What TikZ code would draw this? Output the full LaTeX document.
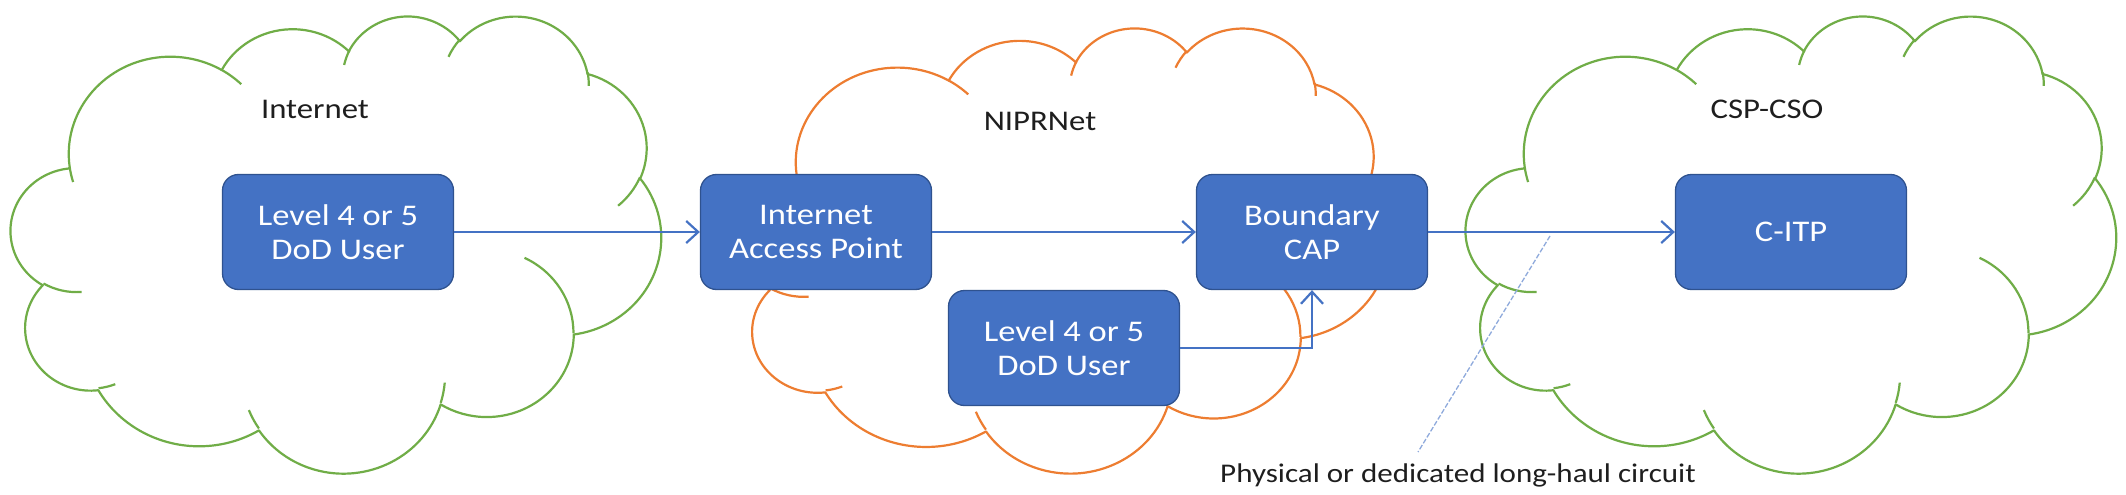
\documentclass[tikz,border=0pt]{standalone}
\usepackage{fontspec}
\setmainfont{Carlito}[FakeStretch=1.15]
\usetikzlibrary{arrows.meta}
\definecolor{boxblue}{HTML}{4472C4}
\definecolor{boxedge}{HTML}{2F528F}
\definecolor{cgreen}{HTML}{70AD47}
\definecolor{corange}{HTML}{ED7D31}
\definecolor{callblue}{HTML}{8FAADC}
\definecolor{inktext}{HTML}{1E1E1E}
% PowerPoint-style arc: visual start angle #3, visual sweep #4, radii #1,#2
\newcommand\cloudarc[4]{arc[x radius=#1, y radius=#2,
  start angle={atan2((#1)*sin(#3),(#2)*cos(#3))},
  delta angle={mod(atan2((#1)*sin((#3)+(#4)),(#2)*cos((#3)+(#4)))-atan2((#1)*sin(#3),(#2)*cos(#3))+720,360)}]}
\newcommand\drawcloud[5]{%
\begin{scope}[xshift=#1pt, yshift=#2pt, x=#3pt, y=#4pt]
\draw[cloudline, draw=#5, fill=white] (39.00,143.70)
  \cloudarc{67.53}{91.90}{-190.48748}{123.78053}
  \cloudarc{53.33}{72.67}{-144.10238}{89.94523}
  \cloudarc{43.65}{59.45}{-145.80792}{99.72302}
  \cloudarc{48.57}{65.95}{-130.98607}{117.24173}
  \cloudarc{53.33}{72.73}{-78.70888}{109.02692}
  \cloudarc{67.75}{92.20}{-46.26725}{130.269}
  \cloudarc{57.85}{78.67}{0.62502}{114.03333}
  \cloudarc{67.52}{92.15}{22.4516}{115.17255}
  \cloudarc{77.20}{105.43}{66.24263}{75.71102}
  \cloudarc{43.60}{59.18}{-274.94208}{146.73557}
  \cloudarc{43.45}{59.45}{-246.8285}{152.51885} -- cycle;
\draw[cloudline, draw=#5]
  (46.93,261.77) \cloudarc{43.45}{59.45}{86.742}{26.4295}
  (69.28,348.99) \cloudarc{43.60}{59.18}{73.61047}{11.44747}
  (164.78,390.90) \cloudarc{67.52}{92.15}{137.62415}{14.0811}
  (288.27,347.51) \cloudarc{67.52}{92.15}{6.45327}{15.99835}
  (341.29,229.54) \cloudarc{57.85}{78.67}{-70.29235}{70.91737}
  (417.98,153.54) \cloudarc{53.33}{72.73}{30.31803}{27.7515}
  (383.24,54.26) \cloudarc{48.57}{65.95}{-13.74433}{14.8589}
  (290.78,39.52) \cloudarc{48.57}{65.95}{-149.18145}{18.19537}
  (221.41,47.20) \cloudarc{43.65}{59.45}{-163.49427}{17.68635}
  (140.00,51.92) \cloudarc{67.53}{91.90}{-66.70695}{12.31935}
  (41.27,157.89) \cloudarc{67.53}{91.90}{157.65435}{11.85817};
\end{scope}}
\tikzset{
  cloudline/.style={line width=2.2pt, line join=round},
  netbox/.style={draw=boxedge, line width=1.3pt, fill=boxblue, rounded corners=16pt,
    minimum width=231pt, minimum height=115pt, inner sep=0pt, text=white,
    align=center, font=\fontsize{30}{34}\selectfont},
  netlabel/.style={anchor=base, text=inktext, font=\fontsize{28.5}{32}\selectfont, inner sep=0pt},
  flow/.style={draw=boxblue, line width=2.2pt, -{Straight Barb[length=12pt,width=22pt]}},
  callline/.style={draw=callblue, line width=1.3pt, dash pattern=on 5pt off 2pt}
}
\begin{document}
\begin{tikzpicture}[x=1pt, y=-1pt]
\useasboundingbox (0,0) rectangle (2126,495);
% clouds
\drawcloud{11}{-15}{1.50463}{-1.05787}{cgreen}
\drawcloud{738}{-27}{1.50463}{-1.03009}{corange}
\drawcloud{1466}{-15}{1.50463}{-1.05787}{cgreen}
% cloud labels
\node[netlabel] (linet) at (315,118) {Internet};
\node[netlabel] (lnipr) at (1040,130) {NIPRNet};
\node[netlabel] (lcsp) at (1767,118) {CSP-CSO};
% boxes
\node[netbox] (u1) at (338,232) {Level 4 or 5\\DoD User};
\node[netbox] (iap) at (816,232) {Internet\\Access Point};
\node[netbox] (cap) at (1312,232) {Boundary\\CAP};
\node[netbox] (citp) at (1791,232) {C-ITP};
\node[netbox] (u2) at (1064,348) {Level 4 or 5\\DoD User};
% connectors
\draw[flow] (u1.east) -- (iap.west);
\draw[flow] (iap.east) -- (cap.west);
\draw[flow] (cap.east) -- (citp.west);
\draw[flow] (u2.east) -| (cap.south);
% callout
\node[anchor=base, text=inktext, font=\fontsize{27}{32}\selectfont, inner sep=0pt] (circ) at (1458,482) {Physical or dedicated long-haul circuit};
\coordinate (cs) at (1550,236);
\coordinate (ce) at (1418,452);
\draw[callline] (cs) -- (ce);
\end{tikzpicture}
\end{document}
